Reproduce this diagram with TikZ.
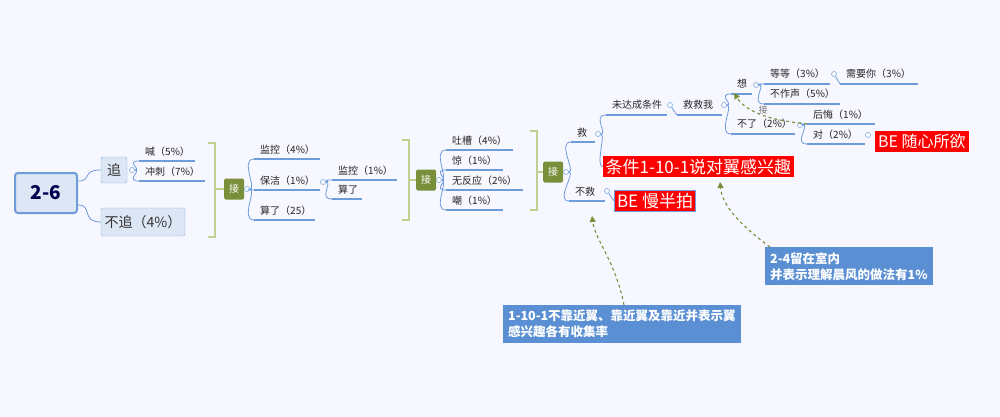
\documentclass[tikz,border=0pt]{standalone}
\usepackage{fontspec}
\setmainfont{Noto Sans CJK SC}
\usetikzlibrary{arrows.meta,calc}
\definecolor{ln}{HTML}{6E9CDB}
\definecolor{olive}{HTML}{7A8F3A}
\definecolor{brk}{HTML}{BFD192}
\definecolor{bx}{HTML}{DCE6F4}
\definecolor{bxb}{HTML}{8FB1E0}
\definecolor{call}{HTML}{5B8FD3}
\tikzset{
 lab/.style={anchor=base west,inner sep=0pt,font=\fontsize{10}{12}\selectfont,text=black!85},
 ul/.style={draw=ln,line width=1.2pt},
 con/.style={draw=ln,line width=0.8pt},
 dot/.style={circle,draw=ln!80,fill=white,minimum size=5pt,inner sep=0pt,line width=0.7pt},
 jie/.style={fill=olive,text=white,rounded corners=1.5pt,minimum width=20pt,minimum height=21pt,inner sep=0pt,font=\fontsize{10}{11}\selectfont},
 brack/.style={draw=brk,line width=2pt},
 red/.style={fill=red,text=white,inner sep=2pt,anchor=north west},
 callbox/.style={fill=call,text=white,font=\bfseries\fontsize{12.5}{16}\selectfont,align=left,anchor=north west,inner sep=5pt},
 dsh/.style={draw=olive,dashed,line width=1.1pt,-{Triangle[length=6pt,width=6pt]}},
}
\newcommand\itm[5]{\node[lab] (#1) at (#2,#3) {#5};
 \coordinate (#1s) at (#2-6,#3+6); \coordinate (#1e) at (#4,#3+6);
 \draw[ul] (#1s) -- (#1e);}
\newcommand\cn[2]{\draw[con] (#1) .. controls ($(#1)+(10,0)$) and ($(#2)+(-14,0)$) .. (#2);}
\begin{document}
\begin{tikzpicture}[x=1pt,y=-1pt]
\fill[white!97!blue] (0,0) rectangle (1000,417);
\useasboundingbox (0,0) rectangle (1000,417);
\node[draw=ln,line width=2pt,fill=bx,rounded corners=3pt,minimum width=62pt,minimum height=40pt,font=\bfseries\fontsize{19}{20}\selectfont,text=black!70!blue] (root) at (46,193) {2-6};
\node[draw=bxb,fill=bx,rounded corners=1.5pt,minimum width=26pt,minimum height=26pt,inner sep=0pt,font=\fontsize{14}{15}\selectfont,text=black!80] (zhui) at (114,170) {追};
\node[draw=bxb,fill=bx,rounded corners=1.5pt,minimum width=84pt,minimum height=28pt,inner sep=0pt,font=\fontsize{14}{15}\selectfont,text=black!80] (buzhui) at (143,222) {不追（4\%）};
\draw[con] ($(root.east)+(0,-12)$) .. controls +(15,0) and +(-20,0) .. (zhui.west);
\draw[con] ($(root.east)+(0,12)$) .. controls +(15,0) and +(-20,0) .. (buzhui.west);
\node[dot] (d1) at (132,170) {};
\itm{han}{145}{155}{195}{喊（5\%）}
\itm{chong}{145}{175}{205}{冲刺（7\%）}
\cn{d1}{hans}\cn{d1}{chongs}
\draw[brack] (208,143) -- (215,143) -- (215,237) -- (208,237);
\draw[brk,line width=1.5pt] (215,189) -- (224,189);
\node[jie] (j1) at (234,189) {接};
\node[dot] (d2) at (247,189) {};
\itm{jk}{260}{153}{320}{监控（4\%）}
\itm{bj}{260}{184}{320}{保洁（1\%）}
\itm{sl}{260}{214}{315}{算了（25）}
\cn{d2}{jks}\cn{d2}{bjs}\cn{d2}{sls}
\node[dot] (d3) at (323,182) {};
\itm{jk2}{338}{174}{397}{监控（1\%）}
\itm{sl2}{338}{193}{362}{算了}
\cn{d3}{jk2s}\cn{d3}{sl2s}
\draw[brack] (402,140) -- (409,140) -- (409,220) -- (402,220);
\draw[brk,line width=1.5pt] (409,180) -- (416,180);
\node[jie] (j2) at (426,180) {接};
\node[dot] (d4) at (439,180) {};
\itm{tc}{452}{144}{513}{吐槽（4\%）}
\itm{jing}{452}{164}{503}{惊（1\%）}
\itm{wfy}{452}{184}{523}{无反应（2\%）}
\itm{chao}{452}{204}{503}{嘲（1\%）}
\cn{d4}{tcs}\cn{d4}{jings}\cn{d4}{wfys}\cn{d4}{chaos}
\draw[brack] (530,131) -- (537,131) -- (537,210) -- (530,210);
\draw[brk,line width=1.5pt] (537,172) -- (543,172);
\node[jie] (j3) at (553,172) {接};
\node[dot] (d5) at (566,172) {};
\itm{jiu}{577}{136}{595}{救}
\itm{bujiu}{575}{195}{605}{不救}
\cn{d5}{jius}\cn{d5}{bujius}
\node[dot] (d6) at (598,134) {};
\node[dot] (d7) at (607,191) {};
\node[red,font=\fontsize{17}{19}\selectfont,inner sep=2.5pt] (tj) at (603,156) {条件1-10-1说对翼感兴趣};
\node[red,draw=ln,line width=1pt,font=\fontsize{17}{19}\selectfont,inner sep=2.5pt] (man) at (614,190) {BE 慢半拍};
\draw[con] (d6) .. controls +(8,0) and +(-8,0) .. (tj.west);
\draw[con] (d7) -- (man.west);
\itm{wdc}{612}{109}{667}{未达成条件}
\cn{d6}{wdcs}
\node[dot] (d8) at (670,105) {};
\itm{jjw}{683}{109}{722}{救救我}
\draw[con] (d8) -- (jjws);
\node[dot] (d9) at (724,105) {};
\itm{xiang}{737}{88}{752}{想}
\itm{bl}{737}{128}{795}{不了（2\%）}
\cn{d9}{xiangs}\cn{d9}{bls}
\node[dot] (d10) at (756,85) {};
\itm{dd}{770}{78}{830}{等等（3\%）}
\itm{bzs}{770}{98}{840}{不作声（5\%）}
\cn{d10}{dds}\cn{d10}{bzss}
\node[dot] (d11) at (834,74) {};
\itm{xyn}{846}{78}{918}{需要你（3\%）}
\draw[con] (d11) -- (xyns);
\node[dot] (d12) at (800,125) {};
\itm{hh}{813}{118}{875}{后悔（1\%）}
\itm{dui}{813}{138}{865}{对（2\%）}
\cn{d12}{hhs}\cn{d12}{duis}
\node[dot] (d13) at (868,135) {};
\node[red,font=\fontsize{16}{18}\selectfont,inner sep=3pt] (sx) at (875,131) {BE 随心所欲};
\draw[dsh] (hhs) .. controls (790,122) and (750,118) .. (734,93);
\node[font=\fontsize{9}{10}\selectfont,text=black!55] (jl) at (763,110) {接};
\node[callbox] (c1) at (765,247) {2-4留在室内\\并表示理解晨风的做法有1\%};
\node[callbox] (c2) at (503,305) {1-10-1不靠近翼、靠近翼及靠近并表示翼\\感兴趣各有收集率};
\coordinate (a1) at (720,182);
\coordinate (a2) at (592,216);
\draw[dsh] ($(c1.north west)+(5,0)$) .. controls (740,225) and (722,205) .. (a1);
\draw[dsh] ($(c2.north)+(2,0)$) .. controls (615,260) and (595,240) .. (a2);
\end{tikzpicture}
\end{document}
